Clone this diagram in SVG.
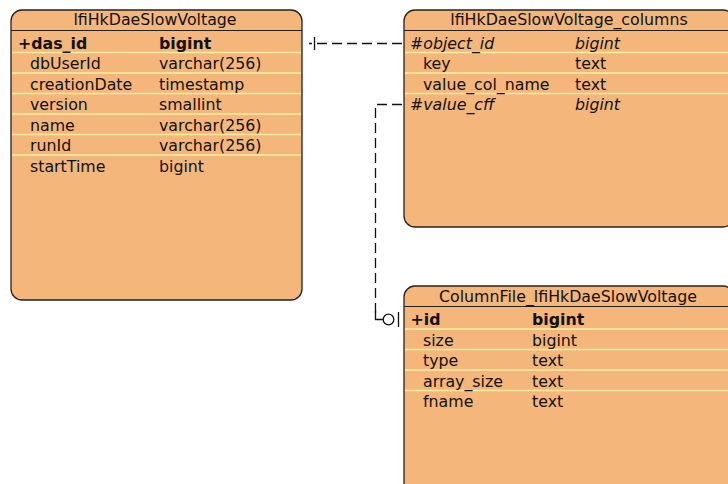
<svg xmlns="http://www.w3.org/2000/svg" width="728" height="484" viewBox="0 0 728 484">
<style>
.box{fill:#F4B67A;stroke:#222;stroke-width:1.3}
.hl{stroke:#222;stroke-width:1.2}
.sep{stroke:#FFF0A0;stroke-width:1.3}
text{font-family:"DejaVu Sans",sans-serif;font-size:15.8px;fill:#111}
.t{text-anchor:middle}
.b{font-weight:bold}
.i{font-style:italic}
.c{fill:none;stroke:#111;stroke-width:1.3}
.d{stroke-dasharray:10,5}
</style>
<rect width="728" height="484" fill="#fff"/>
<g id="connectors">
<path class="c d" d="M402,43.5 L309,43.5"/>
<path class="c" d="M314.5,37 L314.5,50"/>
<path class="c d" d="M402,104.5 L375.5,104.5 L375.5,316"/>
<path class="c" d="M375.5,311 L375.5,319.5 L383,319.5"/>
<circle class="c" cx="388.5" cy="319.5" r="5.3"/>
<path class="c" d="M398.5,312 L398.5,327"/>
</g>
<g id="lfiHkDaeSlowVoltage">
<rect class="box" x="11" y="10" width="291" height="290" rx="11"/>
<line class="hl" x1="11" y1="30.5" x2="302" y2="30.5"/>
<line class="sep" x1="12" y1="52.5" x2="301" y2="52.5"/>
<line class="sep" x1="12" y1="73" x2="301" y2="73"/>
<line class="sep" x1="12" y1="93.5" x2="301" y2="93.5"/>
<line class="sep" x1="12" y1="114" x2="301" y2="114"/>
<line class="sep" x1="12" y1="134.5" x2="301" y2="134.5"/>
<line class="sep" x1="12" y1="155" x2="301" y2="155"/>
<text class="t" x="155" y="25">lfiHkDaeSlowVoltage</text>
<text class="b" x="18" y="48.5">+das_id</text><text class="b" x="159" y="48.5">bigint</text>
<text x="30" y="69">dbUserId</text><text x="159" y="69">varchar(256)</text>
<text x="30" y="89.5">creationDate</text><text x="159" y="89.5">timestamp</text>
<text x="30" y="110">version</text><text x="159" y="110">smallint</text>
<text x="30" y="130.5">name</text><text x="159" y="130.5">varchar(256)</text>
<text x="30" y="151">runId</text><text x="159" y="151">varchar(256)</text>
<text x="30" y="171.5">startTime</text><text x="159" y="171.5">bigint</text>
</g>
<g id="lfiHkDaeSlowVoltage_columns">
<rect class="box" x="404" y="10" width="330" height="217" rx="11"/>
<line class="hl" x1="404" y1="30.5" x2="734" y2="30.5"/>
<line class="sep" x1="405" y1="52.5" x2="734" y2="52.5"/>
<line class="sep" x1="405" y1="73" x2="734" y2="73"/>
<line class="sep" x1="405" y1="93.5" x2="734" y2="93.5"/>
<text class="t" x="569" y="25">lfiHkDaeSlowVoltage_columns</text>
<text class="i" x="410" y="48.5">#object_id</text><text class="i" x="575" y="48.5">bigint</text>
<text x="423" y="69">key</text><text x="575" y="69">text</text>
<text x="423" y="89.5">value_col_name</text><text x="575" y="89.5">text</text>
<text class="i" x="410" y="110">#value_cff</text><text class="i" x="575" y="110">bigint</text>
</g>
<g id="ColumnFile_lfiHkDaeSlowVoltage">
<rect class="box" x="404" y="286" width="330" height="220" rx="11"/>
<line class="hl" x1="404" y1="306.5" x2="734" y2="306.5"/>
<line class="sep" x1="405" y1="329" x2="734" y2="329"/>
<line class="sep" x1="405" y1="349.5" x2="734" y2="349.5"/>
<line class="sep" x1="405" y1="370" x2="734" y2="370"/>
<line class="sep" x1="405" y1="390.5" x2="734" y2="390.5"/>
<text class="t" x="568" y="302">ColumnFile_lfiHkDaeSlowVoltage</text>
<text class="b" x="410.5" y="325">+id</text><text class="b" x="532" y="325">bigint</text>
<text x="423" y="345.5">size</text><text x="532" y="345.5">bigint</text>
<text x="423" y="366">type</text><text x="532" y="366">text</text>
<text x="423" y="386.5">array_size</text><text x="532" y="386.5">text</text>
<text x="423" y="407">fname</text><text x="532" y="407">text</text>
</g>
</svg>
